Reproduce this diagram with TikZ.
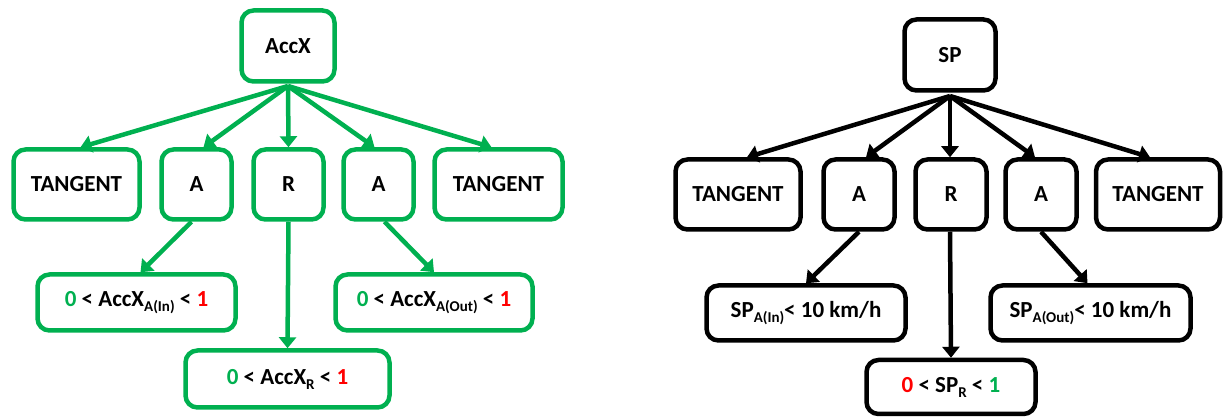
\documentclass[tikz,border=0pt]{standalone}
\usepackage{fontspec}
\setmainfont{Carlito}
\usetikzlibrary{arrows.meta}
\definecolor{offgreen}{HTML}{00B050}
\definecolor{offred}{HTML}{FF0000}
\newcommand{\lowsub}[1]{\raisebox{-5pt}{\fontsize{15}{15}\selectfont #1}}
\tikzset{
  box/.style={draw, line width=4.5pt, rounded corners=12pt, inner sep=0pt, align=center,
    font=\fontsize{23}{26}\selectfont\bfseries, text=black},
  gbox/.style={box, draw=offgreen},
  kbox/.style={box, draw=black},
  conn/.style={line width=4.5pt, -{Triangle[length=11pt,width=17pt]}},
  gconn/.style={conn, draw=offgreen, fill=offgreen},
  kconn/.style={conn, draw=black, fill=black},
}
\begin{document}
\begin{tikzpicture}[x=1pt,y=-1pt]
\useasboundingbox (0,0) rectangle (1224,419);
% ---------- left tree ----------
\node[gbox, minimum width=93pt, minimum height=71pt] (acc) at (288,46) {AccX};
\node[gbox, minimum width=126pt, minimum height=70pt] (t1) at (76.5,184.5) {TANGENT};
\node[gbox, minimum width=70pt, minimum height=70pt] (a1) at (196.5,184.5) {A};
\node[gbox, minimum width=70pt, minimum height=70pt] (r1) at (288.5,184.5) {R};
\node[gbox, minimum width=70pt, minimum height=70pt] (a2) at (378.5,184.5) {A};
\node[gbox, minimum width=128pt, minimum height=70pt] (t2) at (498.5,184.5) {TANGENT};
\node[gbox, minimum width=198pt, minimum height=56pt] (ain) at (136.5,302.5)
  {{\color{offgreen}0} < AccX\lowsub{A(In)} < {\color{offred}1}};
\node[gbox, minimum width=197pt, minimum height=56pt] (aout) at (434,302.5)
  {{\color{offgreen}0} < AccX\lowsub{A(Out)} < {\color{offred}1}};
\node[gbox, minimum width=204pt, minimum height=57pt] (rr) at (287.5,379)
  {{\color{offgreen}0} < AccX\lowsub{R} < {\color{offred}1}};
\coordinate (ao) at (288,86);
\draw[gconn] (ao) -- ([xshift=4pt]t1.north);
\draw[gconn] (ao) -- ([xshift=7pt]a1.north);
\draw[gconn] (ao) -- (r1.north);
\draw[gconn] (ao) -- ([xshift=-4pt]a2.north);
\draw[gconn] (ao) -- ([xshift=-7pt]t2.north);
\draw[gconn] ([xshift=-5pt]a1.south) -- ([xshift=4pt]ain.north);
\draw[gconn] (r1.south) -- (rr.north);
\draw[gconn] ([xshift=6pt]a2.south) -- (aout.north);
% ---------- right tree ----------
\node[kbox, minimum width=91pt, minimum height=71pt] (sp) at (950,55) {SP};
\node[kbox, minimum width=125pt, minimum height=70pt] (t3) at (738,194.5) {TANGENT};
\node[kbox, minimum width=71pt, minimum height=70pt] (a3) at (859,194.5) {A};
\node[kbox, minimum width=71pt, minimum height=70pt] (r2) at (951,194.5) {R};
\node[kbox, minimum width=71pt, minimum height=70pt] (a4) at (1041,194.5) {A};
\node[kbox, minimum width=124pt, minimum height=70pt] (t4) at (1158,194.5) {TANGENT};
\node[kbox, minimum width=199pt, minimum height=55pt] (spin) at (806,313)
  {SP\lowsub{A(In)}< 10 km/h};
\node[kbox, minimum width=200pt, minimum height=55pt] (spout) at (1090.5,313)
  {SP\lowsub{A(Out)}< 10 km/h};
\node[kbox, minimum width=169pt, minimum height=54pt] (spr) at (951,387)
  {{\color{offred}0} < SP\lowsub{R} < {\color{offgreen}1}};
\coordinate (so) at (950,96);
\draw[kconn] (so) -- ([xshift=9pt]t3.north);
\draw[kconn] (so) -- ([xshift=7pt]a3.north);
\draw[kconn] (so) -- ([xshift=-1pt]r2.north);
\draw[kconn] (so) -- ([xshift=-6pt]a4.north);
\draw[kconn] (so) -- ([xshift=-8pt]t4.north);
\draw[kconn] (a3.south) -- (spin.north);
\draw[kconn] ([xshift=-1pt]r2.south) -- (spr.north);
\draw[kconn] (a4.south) -- ([xshift=-3pt]spout.north);
\end{tikzpicture}
\end{document}
